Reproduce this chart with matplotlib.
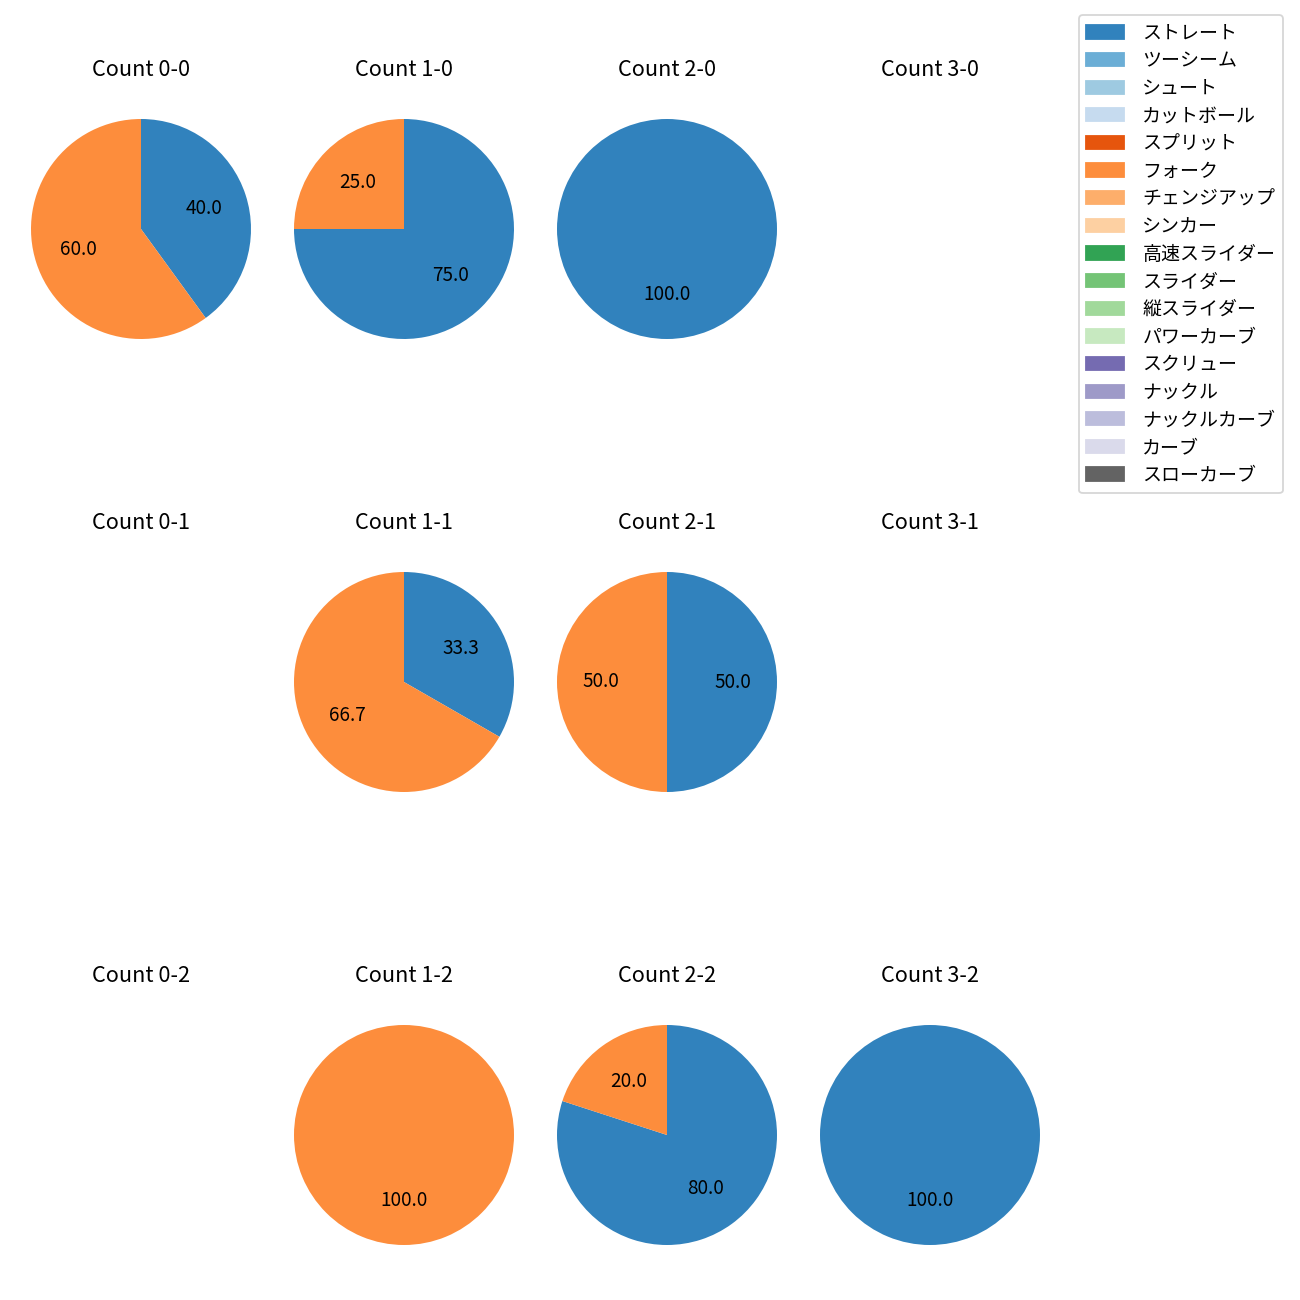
import matplotlib
matplotlib.use("Agg")
import matplotlib.pyplot as plt
import matplotlib.patches as mpatches
import numpy as np

plt.rcParams['font.family'] = ['Noto Sans CJK JP', 'DejaVu Sans']

pitch_types = ["ストレート", "ツーシーム", "シュート", "カットボール", "スプリット", "フォーク",
               "チェンジアップ", "シンカー", "高速スライダー", "スライダー", "縦スライダー",
               "パワーカーブ", "スクリュー", "ナックル", "ナックルカーブ", "カーブ", "スローカーブ"]
colors = [plt.get_cmap('tab20c')(i) for i in range(17)]

balls = [0, 1, 2, 3]
strikes = [0, 1, 2]

# share (%) of ストレート and フォーク per count (balls-strikes)
straight = {
    (0, 0): 40.0, (1, 0): 75.0, (2, 0): 100.0, (3, 0): 0.0,
    (0, 1): 0.0, (1, 1): 33.3, (2, 1): 50.0, (3, 1): 0.0,
    (0, 2): 0.0, (1, 2): 0.0, (2, 2): 80.0, (3, 2): 100.0,
}
fork = {
    (0, 0): 60.0, (1, 0): 25.0, (2, 0): 0.0, (3, 0): 0.0,
    (0, 1): 0.0, (1, 1): 66.7, (2, 1): 50.0, (3, 1): 0.0,
    (0, 2): 0.0, (1, 2): 100.0, (2, 2): 20.0, (3, 2): 0.0,
}

W = H = 1300
fig = plt.figure(figsize=(10, 10), dpi=130)

col_cx = [141, 404, 667, 930]
row_cy = [229, 682, 1135]
side = 275

for si, s in enumerate(strikes):
    for bi, b in enumerate(balls):
        cx, cy = col_cx[bi], row_cy[si]
        ax = fig.add_axes([(cx - side / 2) / W, 1 - (cy + side / 2) / H, side / W, side / H])
        vals = [straight[(b, s)], fork[(b, s)]]
        cols = [colors[0], colors[5]]
        v = [x for x in vals if x > 0]
        c = [cc for x, cc in zip(vals, cols) if x > 0]
        if v:
            ax.pie(v, colors=c, startangle=90, counterclock=False,
                   autopct='%.1f', textprops={'fontsize': 10.5})
        else:
            ax.set_xlim(-1.25, 1.25)
            ax.set_ylim(-1.25, 1.25)
            ax.axis('off')
        ax.set_title(f"Count {b}-{s}", fontsize=12, pad=8.5)

handles = [mpatches.Patch(color=colors[i], label=pitch_types[i]) for i in range(17)]
fig.legend(handles=handles, loc='upper right', bbox_to_anchor=(1283 / W, 1 - 15 / H),
           borderaxespad=0, fontsize=10.5, labelspacing=0.35, handletextpad=0.95)

fig.savefig("out.png", dpi=130)
